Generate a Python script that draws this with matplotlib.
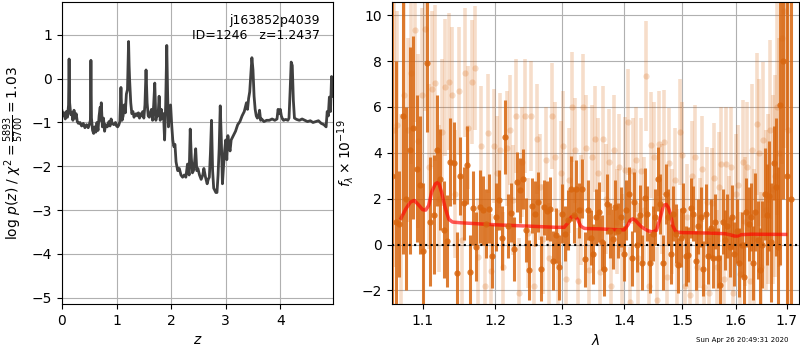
import numpy as np
import matplotlib
matplotlib.use('Agg')
import matplotlib.pyplot as plt
from matplotlib.ticker import ScalarFormatter, NullLocator, NullFormatter

# redshift grid and log p(z)
z_grid = [0.00, 0.02, 0.04, 0.06, 0.08, 0.10, 0.12, 0.13, 0.14, 0.16, 0.18, 0.20, 0.22, 0.24,
          0.26, 0.28, 0.30, 0.33, 0.36, 0.39, 0.42, 0.45, 0.48, 0.50, 0.52, 0.53, 0.54, 0.56,
          0.58, 0.60, 0.62, 0.64, 0.66, 0.68, 0.70, 0.71, 0.72, 0.74, 0.76, 0.78, 0.80, 0.83,
          0.86, 0.88, 0.90, 0.92, 0.95, 0.98, 1.00, 1.02, 1.04, 1.06, 1.08, 1.10, 1.12, 1.14,
          1.16, 1.18, 1.20, 1.22, 1.23, 1.24, 1.26, 1.28, 1.30, 1.32, 1.34, 1.36, 1.38, 1.40,
          1.42, 1.44, 1.46, 1.48, 1.50, 1.52, 1.54, 1.56, 1.58, 1.60, 1.62, 1.64, 1.66, 1.68,
          1.70, 1.72, 1.74, 1.76, 1.78, 1.80, 1.82, 1.84, 1.86, 1.88, 1.90, 1.92, 1.935, 1.95,
          1.97, 1.99, 2.01, 2.03, 2.05, 2.07, 2.09, 2.12, 2.15, 2.18, 2.21, 2.24, 2.27, 2.30,
          2.33, 2.35, 2.37, 2.39, 2.41, 2.43, 2.45, 2.47, 2.49, 2.52, 2.55, 2.58, 2.60, 2.63,
          2.66, 2.68, 2.70, 2.72, 2.74, 2.76, 2.78, 2.80, 2.82, 2.84, 2.86, 2.88, 2.90, 2.92,
          2.94, 2.96, 2.98, 3.00, 3.02, 3.04, 3.06, 3.08, 3.10, 3.14, 3.18, 3.22, 3.26, 3.30,
          3.34, 3.38, 3.40, 3.42, 3.44, 3.46, 3.48, 3.50, 3.52, 3.54, 3.56, 3.58, 3.60, 3.62,
          3.64, 3.66, 3.70, 3.75, 3.80, 3.85, 3.90, 3.94, 3.96, 3.98, 4.00, 4.02, 4.04, 4.06,
          4.10, 4.14, 4.16, 4.18, 4.20, 4.22, 4.24, 4.26, 4.30, 4.35, 4.40, 4.45, 4.50, 4.55,
          4.60, 4.65, 4.70, 4.75, 4.80, 4.84, 4.86, 4.88, 4.90, 4.92, 4.94, 4.96]
log_pz = [-0.73, -0.85, -0.78, -0.92, -0.75, -0.88, -0.60, 0.45, -0.55, -0.82, -0.78, -0.95, -0.72, -0.90,
          -0.80, -0.98, -1.02, -1.00, -1.08, -1.02, -1.12, -1.05, -1.12, -1.05, -0.95, 0.42, -0.90, -1.18,
          -1.25, -1.10, -1.22, -1.00, -1.18, -0.85, -0.65, -0.95, -0.55, -1.10, -0.90, -1.20, -1.05, -1.10,
          -0.98, -1.08, -0.92, -1.02, -1.05, -1.00, -1.08, -1.10, -1.06, -0.98, -0.20, -0.95, -0.85, -0.60,
          -0.78, -0.35, -0.25, 0.85, 0.30, -0.05, -0.55, -0.80, -0.75, -0.88, -0.82, -0.80, -0.85, -0.78,
          -0.90, -0.80, -0.85, -0.75, -0.90, -0.60, 0.20, -0.55, -0.85, -0.88, -0.78, -0.70, -0.95, -0.60,
          -0.10, -0.95, -0.80, -0.85, -0.40, -0.95, -0.70, -0.90, -0.80, -1.40, -0.60, 0.76, -0.30, -1.10,
          -0.75, -0.60, -1.05, -1.40, -1.55, -1.50, -1.90, -2.10, -2.05, -2.20, -2.25, -2.20, -2.25, -1.95,
          -2.20, -1.15, -1.80, -2.15, -2.10, -1.90, -1.60, -2.10, -2.05, -2.20, -2.30, -2.20, -2.05, -2.25,
          -2.40, -2.30, -2.25, -1.70, -0.95, -2.10, -2.50, -2.55, -2.60, -2.60, -2.20, -1.60, -0.62, -1.40,
          -2.40, -2.00, -1.65, -1.40, -1.85, -1.30, -1.55, -1.65, -1.40, -1.30, -1.20, -1.05, -0.98, -0.85,
          -0.75, -0.55, -0.70, -0.45, -0.30, 0.10, 0.48, 0.20, -0.40, -0.70, -0.85, -0.90, -0.88, -0.72,
          -0.95, -0.92, -0.98, -0.95, -0.95, -0.92, -0.95, -0.92, -0.70, -0.80, -0.70, -0.85, -0.92, -0.95,
          -0.93, -0.95, -0.90, -0.30, 0.38, 0.30, -0.50, -0.90, -0.93, -0.95, -0.92, -0.95, -0.98, -0.96,
          -1.00, -0.98, -0.96, -1.02, -1.05, -1.10, -0.75, -0.85, -0.42, -0.75, 0.05, -0.40]

# binned spectrum (microns, 1e-19 flux units)
dark_flux = [3.0, 1.0, 0.9, 5.6, 2.0, 4.1, 5.1, 3.3, 2.6, -0.3,
             7.9, 1.0, 1.3, 4.1, 2.85, 0.65, 0.15, 3.6, 3.55, -1.25,
             3.0, 1.8, 3.45, -1.2, 1.6, -0.1, 1.65, 1.5, 0.9, 1.56,
             -0.5, 1.2, 1.93, 0.3, 4.68, 0.8, 1.39, -0.2, 2.72, 2.36,
             2.87, 0.62, -1.1, 1.7, 1.35, 1.85, -1.05, 1.63, 1.48, 1.55,
             -0.7, 0.4, -1.0, 1.35, 0.48, 1.06, 2.44, 1.28, 2.4, 1.5,
             2.44, -0.65, 1.5, 0.3, -0.4, 1.2, 1.42, 0.1, -1.05, 1.78,
             0.6, 0.25, 1.63, 0.6, 1.2, -0.4, 1.5, 2.2, -0.6, 1.85,
             0.0, 1.3, -0.8, 2.05, 1.34, -0.8, 0.48, 1.2, 2.85, 1.78,
             -0.8, 2.2, 1.2, -0.4, 1.34, 0.48, -0.9, 0.3, 1.5, -0.5,
             -0.45, 1.6, 1.34, -0.7, 0.8, 1.2, -1.05, 1.34, -0.5, 0.7,
             -0.6, 1.0, -0.6, -1.75, 1.0, 0.2, 0.8, -0.1, 1.2, -0.4,
             0.6, -0.8, 0.0, -1.4, 1.4, 0.9, 1.2, -0.8, 1.4, 0.2,
             -1.1, 0.0, 2.2, 1.3, 2.1, 0.1, 3.56, 2.5, -0.1, 6.1,
             8.0, np.nan, 3.0, np.nan, 2.0]
dark_err = [40, 7.0, 2.3, 6.0, 4.0, 4.5, 4.0, 3.2, 3.0, 3.0,
            3.0, 2.8, 2.6, 2.4, 2.2, 2.1, 2.0, 1.9, 1.8, 1.8,
            1.7, 1.6, 1.7, 1.6, 1.6, 1.5, 1.6, 1.5, 1.5, 1.5,
            1.4, 1.5, 1.3, 1.4, 1.6, 1.4, 1.3, 1.4, 1.3, 1.4,
            1.3, 1.4, 1.3, 1.2, 1.4, 1.3, 1.4, 1.2, 1.3, 1.4,
            1.3, 1.2, 1.4, 1.3, 1.2, 1.3, 1.4, 1.2, 1.3, 1.2,
            1.3, 1.2, 1.3, 1.2, 1.3, 1.2, 1.3, 1.2, 1.2, 1.3,
            1.2, 1.3, 1.2, 1.2, 1.3, 1.2, 1.3, 1.2, 1.2, 1.3,
            1.2, 1.3, 1.2, 1.3, 1.2, 1.3, 1.2, 1.2, 1.4, 1.3,
            1.2, 1.3, 1.2, 1.3, 1.2, 1.3, 1.2, 1.3, 1.2, 1.3,
            1.2, 1.3, 1.2, 1.3, 1.2, 1.3, 1.2, 1.3, 1.2, 1.3,
            1.3, 1.2, 1.3, 1.3, 1.4, 1.3, 1.4, 1.3, 1.4, 1.4,
            1.4, 1.5, 1.4, 1.5, 1.5, 1.6, 1.5, 1.6, 1.7, 1.7,
            1.8, 1.9, 2.0, 2.2, 2.4, 2.6, 1.6, 3.0, 3.5, 7.0,
            6.0, np.nan, 40, np.nan, 40]

# unbinned spectrum
light_flux = [5.0, 5.2, 1.2, 6.5, 5.0, 7.5, 9.35, 4.5, 6.5, 9.4,
              3.4, 6.8, 7.05, 2.0, 4.9, 6.85, 7.1, 6.5, 2.2, 6.7,
              0.2, 7.5, 5.1, 7.1, 7.7, -0.55, 4.3, -1.8, 4.85, -1.15,
              4.3, 3.1, 4.1, -1.0, 4.2, 5.0, 1.95, 5.6, -2.1, 3.6,
              5.6, 0.5, 5.6, -1.8, 4.6, 2.5, 0.25, 3.7, -0.6, 5.6,
              3.8, -0.8, 3.1, 4.3, -1.5, 2.8, 6.0, 4.1, -1.6, 1.5,
              6.0, 4.2, -1.1, 3.8, 4.6, 3.1, -1.2, 4.6, 2.0, 3.6,
              -1.8, 4.1, 1.0, 3.4, -0.2, 3.25, 5.35, -2.5, 3.2, 3.7,
              -0.6, 3.2, 1.5, 7.35, -1.8, 4.35, 3.8, -2.4, 4.4, 2.0,
              4.45, -1.4, 3.55, 1.0, 2.8, -0.85, 4.9, 3.9, -1.8, 1.2,
              -2.2, 2.97, 3.8, -1.0, 0.5, 3.3, -1.85, 1.85, -2.1, 1.82,
              2.9, -1.0, 2.5, 3.5, -1.5, 3.5, 0.5, 3.4, -2.1, 2.2,
              2.6, -1.3, 3.6, 1.0, 3.4, -1.6, 4.1, 0.3, 5.26, 4.0,
              -1.0, 4.55, 1.5, 2.0, 5.0, 2.4, 3.0, 6.0, 4.0, 9.0,
              10.2, 12.0, 5.0, np.nan, np.nan]
light_err = [6.0, 5.0, 4.5, 4.5, 4.0, 4.0, 4.0, 3.8, 3.8, 3.6,
             3.6, 3.4, 3.4, 3.2, 3.2, 3.0, 3.0, 3.0, 2.8, 2.8,
             2.8, 2.8, 2.7, 2.7, 2.7, 2.6, 2.6, 2.6, 2.6, 2.5,
             2.5, 2.5, 2.5, 2.4, 2.5, 2.4, 2.4, 2.5, 2.4, 2.4,
             2.5, 2.4, 2.4, 2.3, 2.4, 2.3, 2.4, 2.3, 2.4, 2.3,
             2.4, 2.3, 2.3, 2.4, 2.3, 2.3, 2.4, 2.3, 2.3, 2.4,
             2.3, 2.3, 2.4, 2.3, 2.3, 2.4, 2.3, 2.3, 2.4, 2.3,
             2.3, 2.4, 2.3, 2.3, 2.4, 2.3, 2.3, 2.4, 2.3, 2.3,
             2.4, 2.3, 2.3, 2.4, 2.3, 2.3, 2.4, 2.3, 2.3, 2.4,
             2.3, 2.3, 2.4, 2.3, 2.3, 2.4, 2.3, 2.3, 2.4, 2.3,
             2.3, 2.4, 2.3, 2.3, 2.4, 2.3, 2.4, 2.4, 2.4, 2.4,
             2.4, 2.5, 2.4, 2.5, 2.5, 2.5, 2.5, 2.6, 2.6, 2.6,
             2.6, 2.7, 2.7, 2.8, 2.8, 2.9, 2.9, 3.0, 3.1, 3.2,
             3.3, 3.4, 3.5, 3.7, 3.9, 4.1, 4.4, 4.7, 5.0, 5.5,
             6.0, 7.0, 40, np.nan, np.nan]

# best-fit model
model_wave = [1.072, 1.078, 1.084, 1.089, 1.094, 1.100, 1.104, 1.108, 1.112, 1.117,
              1.121, 1.125, 1.130, 1.135, 1.140, 1.150, 1.200, 1.250, 1.290, 1.303,
              1.309, 1.314, 1.319, 1.324, 1.329, 1.335, 1.360, 1.390, 1.400, 1.406,
              1.410, 1.414, 1.419, 1.424, 1.430, 1.440, 1.448, 1.455, 1.462, 1.467,
              1.472, 1.476, 1.480, 1.484, 1.489, 1.500, 1.550, 1.580, 1.590, 1.597,
              1.603, 1.610, 1.630, 1.698]
model_flux = [1.15, 1.55, 1.85, 1.92, 1.75, 1.52, 1.50, 1.70, 2.30, 2.65,
              2.72, 2.30, 1.60, 1.10, 0.98, 0.95, 0.86, 0.80, 0.75, 0.75,
              0.95, 1.20, 1.25, 1.10, 0.80, 0.70, 0.68, 0.64, 0.64, 0.85,
              1.05, 1.12, 1.05, 0.90, 0.75, 0.60, 0.55, 0.62, 1.20, 1.70,
              1.75, 1.60, 1.30, 0.80, 0.55, 0.52, 0.50, 0.47, 0.42, 0.37,
              0.37, 0.43, 0.45, 0.44]

dark_wave = np.linspace(1.0604, 1.7100, len(dark_flux))
light_wave = np.linspace(1.0627, 1.7123, len(light_flux))

fig = plt.figure(figsize=(8, 3.5), dpi=100)

# p(z) panel
ax1 = fig.add_axes([0.0775, 0.131, 0.339, 0.863])
ax1.plot(z_grid, log_pz, color='0.25', lw=2)
ax1.set_xlim(0, 4.97)
ax1.set_ylim(max(log_pz) - 6, max(log_pz) + 0.9)
ax1.set_xlabel('$z$')
ax1.set_ylabel(r'log $p(z)$ / $\chi^2=\frac{5893}{5700}=1.03$')
ax1.grid()
ax1.text(0.95, 0.96, 'j163852p4039\nID=1246   z=1.2437', ha='right', va='top',
         transform=ax1.transAxes, fontsize=9)

# spectrum panel
c = '#d8660f'
ax2 = fig.add_axes([0.4896, 0.131, 0.5095, 0.863])
ax2.errorbar(light_wave, light_flux, yerr=light_err, color=c, alpha=0.22,
             marker='o', ms=4.5, mec='none', linestyle='None', elinewidth=2.6)
ax2.errorbar(dark_wave, dark_flux, yerr=dark_err, color=c, alpha=0.85,
             marker='o', ms=4.5, mec='none', linestyle='None', elinewidth=2.2)
ax2.plot(model_wave, model_flux, color='r', alpha=0.65, lw=2.5)
ax2.axhline(0, color='k', ls=':', lw=1.5)

ax2.set_xscale('log')
ax2.set_xlim(1.060, 1.726)
ax2.set_xticks([1.1, 1.2, 1.3, 1.4, 1.5, 1.6, 1.7])
ax2.xaxis.set_major_formatter(ScalarFormatter())
ax2.xaxis.set_minor_locator(NullLocator())
ax2.xaxis.set_minor_formatter(NullFormatter())
ax2.set_ylim(-2.6, 10.57)
ax2.set_yticks([-2, 0, 2, 4, 6, 8, 10])
ax2.set_xlabel(r'$\lambda$')
ax2.set_ylabel(r'$f_\lambda\times10^{-19}$')
ax2.grid()

fig.text(0.985, 0.029, 'Sun Apr 26 20:49:31 2020', ha='right', va='center', fontsize=5)

fig.savefig('out.png', dpi=100)
